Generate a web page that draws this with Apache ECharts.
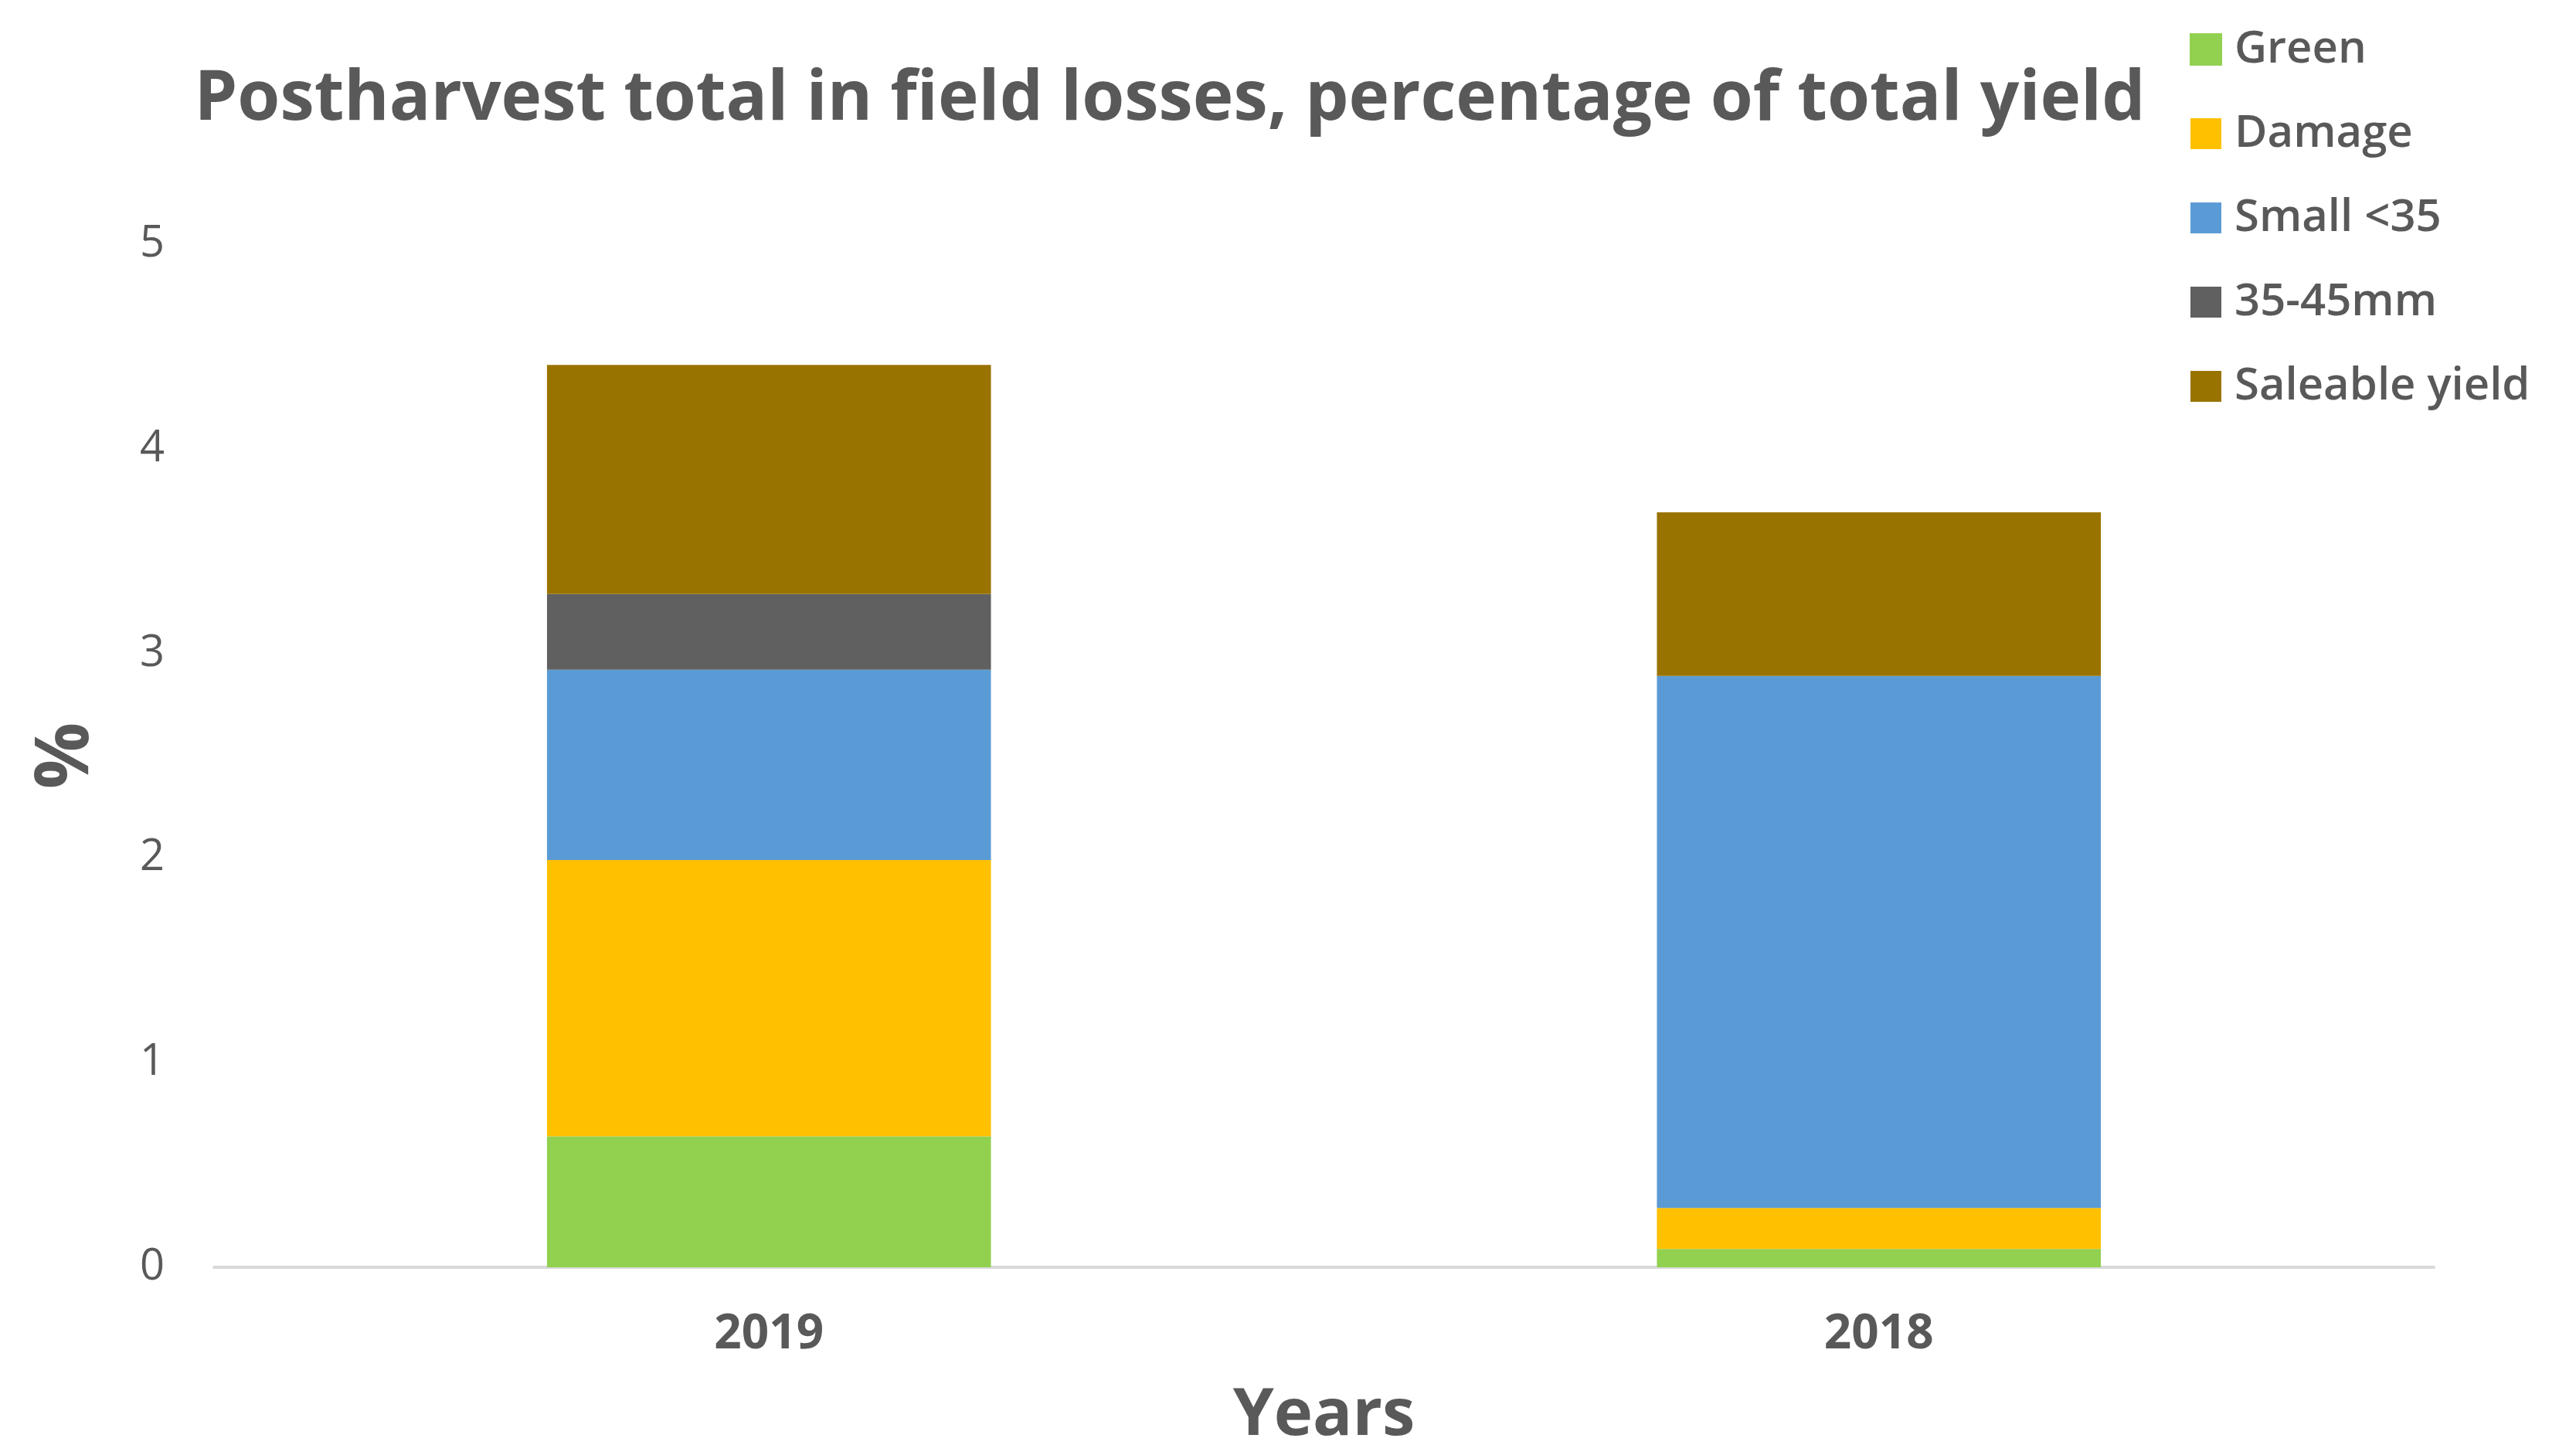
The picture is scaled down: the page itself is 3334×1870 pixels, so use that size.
<!DOCTYPE html>
<html>
<head>
<meta charset="utf-8">
<script src="https://cdn.jsdelivr.net/npm/echarts@6/dist/echarts.min.js"></script>
<style>html,body{margin:0;padding:0;background:#fff}#c{width:3334px;height:1870px}</style>
</head>
<body>
<div id="c"></div>
<script>
const categories = ['2019', '2018'];
const seriesNames = ['Green', 'Damage', 'Small <35', '35-45mm', 'Saleable yield'];
const green = [0.64, 0.09];
const damage = [1.35, 0.20];
const small = [0.93, 2.60];
const mid35_45 = [0.37, 0];
const saleable = [1.12, 0.80];
const yTicks = [0, 1, 2, 3, 4, 5];

const colors = ['#92D050', '#FFC000', '#5B9BD5', '#606060', '#997300'];
const values = [green, damage, small, mid35_45, saleable];

const chart = echarts.init(document.getElementById('c'));
const font = '"Open Sans", "Noto Sans", sans-serif';
chart.setOption({
  animation: false,
  backgroundColor: '#fff',
  title: {
    text: 'Postharvest total in field losses, percentage of total yield',
    left: 1509, top: 80, textAlign: 'center',
    textStyle: { fontFamily: font, fontWeight: 'bold', fontSize: 89, color: '#595959' }
  },
  legend: {
    orient: 'vertical', left: 2829, top: 30,
    itemWidth: 40, itemHeight: 40, itemGap: 51, icon: 'rect',
    data: seriesNames,
    textStyle: { fontFamily: font, fontWeight: 600, fontSize: 58, lineHeight: 56, color: '#595959', padding: [0, 0, 0, 12] }
  },
  grid: { left: 277, right: 184, top: 316, bottom: 230, outerBoundsMode: 'none', containLabel: false },
  xAxis: {
    type: 'category', data: categories,
    name: 'Years', nameLocation: 'middle', nameGap: 150,
    nameTextStyle: { fontFamily: font, fontWeight: 'bold', fontSize: 85, color: '#595959' },
    axisLine: { lineStyle: { color: '#d9d9d9', width: 4 } },
    axisTick: { show: false },
    axisLabel: { margin: 56, fontFamily: font, fontWeight: 'bold', fontSize: 62, color: '#595959' }
  },
  yAxis: {
    type: 'value', min: 0, max: 5, interval: 1,
    name: '%', nameLocation: 'middle', nameGap: 142, nameRotate: 90,
    nameTextStyle: { fontFamily: font, fontWeight: 'bold', fontSize: 96, color: '#595959' },
    axisLine: { show: false }, axisTick: { show: false },
    splitLine: { show: false },
    axisLabel: { margin: 64, fontFamily: font, fontSize: 56, color: '#595959',
      formatter: v => yTicks.includes(v) ? String(v) : '' }
  },
  series: seriesNames.map((n, i) => ({
    name: n, type: 'bar', stack: 'total', barWidth: '40%',
    data: values[i],
    itemStyle: i === 0 ? { color: colors[i], borderColor: colors[i], borderWidth: 8 } : { color: colors[i] }
  }))
});
</script>
</body>
</html>
